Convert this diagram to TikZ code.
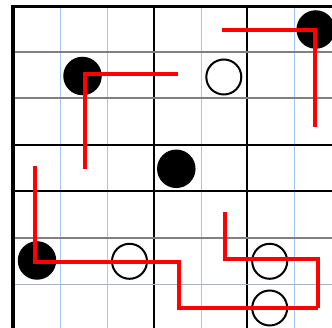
\documentclass[tikz,border=0pt]{standalone}
\begin{document}
\begin{tikzpicture}[x=1pt,y=-1pt,
  gblue/.style={draw={rgb,255:red,160;green,200;blue,240},line width=1pt},
  gblack/.style={draw=black,line width=1.2pt},
  ggray/.style={draw={rgb,255:red,128;green,128;blue,128},line width=1.5pt},
  gsteel/.style={draw={rgb,255:red,165;green,180;blue,205},line width=1.5pt},
  blackstone/.style={circle,fill=black,minimum size=38.5pt,inner sep=0pt},
  whitestone/.style={circle,draw=black,line width=2pt,fill=white,minimum size=35pt,inner sep=0pt},
  redline/.style={draw=red,line width=4pt,line join=miter}]
\useasboundingbox (0,0) rectangle (332,328);
\fill[white] (0,0) rectangle (332,328);
% vertical grid lines
\foreach \x in {60,107,201,294} \draw[gblue] (\x,6) -- (\x,328);
\foreach \x in {154,247} \draw[gblack] (\x,6) -- (\x,328);
% horizontal grid lines
\foreach \y in {52,98,238} \draw[ggray] (13,\y) -- (332,\y);
\foreach \y in {145,191} \draw[gblack] (13,\y) -- (332,\y);
\draw[gsteel] (13,284.5) -- (332,284.5);
% border
\draw[line width=3.5pt] (13,328) -- (13,6.5) -- (332,6.5);
% stones
\node[blackstone] (b1) at (82.5,76) {};
\node[blackstone] (b2) at (315.7,29.5) {};
\node[blackstone] (b3) at (176.3,168.8) {};
\node[blackstone] (b4) at (37,260.5) {};
\node[whitestone] (w1) at (223.8,77) {};
\node[whitestone] (w2) at (129.5,261.3) {};
\node[whitestone] (w3) at (269.7,261.3) {};
\node[whitestone] (w4) at (269.7,308) {};
% red paths
\coordinate (p1a) at (178,73.7);
\coordinate (p1b) at (84.5,73.7);
\coordinate (p1c) at (84.5,169);
\draw[redline] (p1a) -- (p1b) -- (p1c);
\coordinate (p2a) at (222,29.7);
\coordinate (p2b) at (315.3,29.7);
\coordinate (p2c) at (315.3,127);
\draw[redline] (p2a) -- (p2b) -- (p2c);
\coordinate (p3a) at (34.5,166);
\coordinate (p3b) at (34.5,262);
\coordinate (p3c) at (178.7,262);
\coordinate (p3d) at (178.7,308.3);
\coordinate (p3e) at (318.3,308.3);
\draw[redline] (p3a) -- (p3b) -- (p3c) -- (p3d) -- (p3e);
\coordinate (p4a) at (224.5,212);
\coordinate (p4b) at (224.5,259);
\coordinate (p4c) at (318.3,259);
\draw[redline] (p4a) -- (p4b) -- (p4c) -- (p3e);
\end{tikzpicture}
\end{document}
